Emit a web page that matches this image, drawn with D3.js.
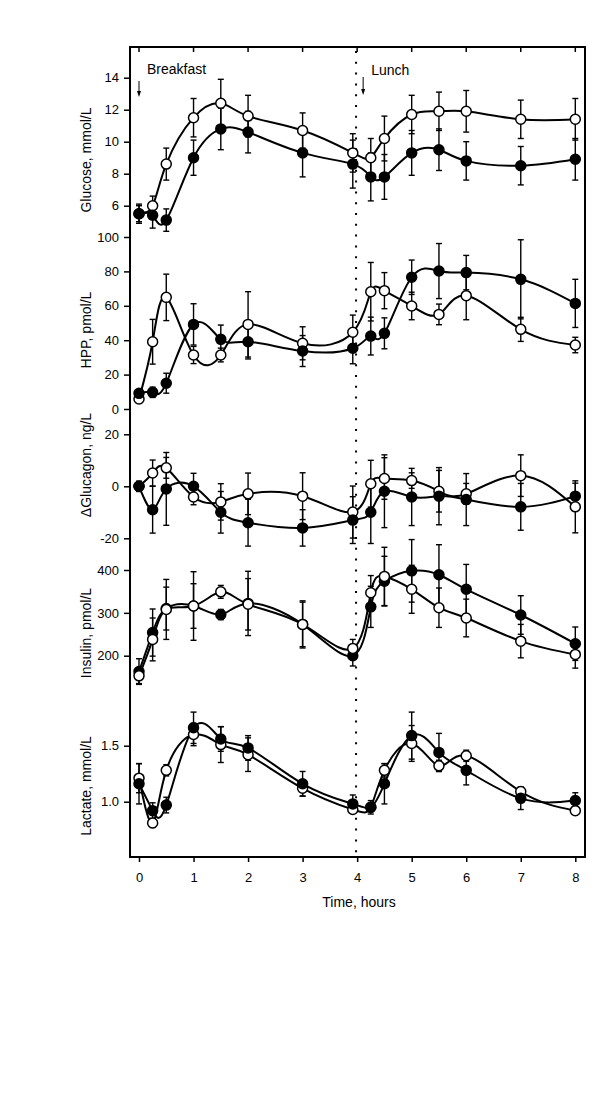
<!DOCTYPE html>
<html lang="en">
<head>
<meta charset="utf-8">
<script src="https://cdn.jsdelivr.net/npm/d3@7"></script>
<style>
  body { margin: 0; background: white; }
  svg { font-family: 'Liberation Sans', Arial, sans-serif; }
  .frame { fill: none; stroke: black; stroke-width: 2px; }
  .curve { fill: none; stroke: black; stroke-width: 2px; }
  .err line { stroke: black; stroke-width: 1.4px; }
  .axis text { font-size: 13px; fill: black; }
  .axis line { stroke: black; stroke-width: 1.5px; }
  .label { font-size: 14px; fill: black; }
  .meal { font-size: 14px; fill: black; }
</style>
</head>
<body>
<svg width="600" height="1099"></svg>
<script>
// sampling times (h); the pre-lunch sample sits just before 4 h
var hours = [0, 0.25, 0.5, 1, 1.5, 2, 3, 3.92, 4.25, 4.5, 5, 5.5, 6, 7, 8];
var hourTicks = [0, 1, 2, 3, 4, 5, 6, 7, 8];

var glucoseFilled    = [5.5, 5.4, 5.1, 9.0, 10.8, 10.6, 9.3, 8.6, 7.8, 7.8, 9.3, 9.5, 8.8, 8.5, 8.9];
var glucoseFilledErr = [0.6, 0.8, 0.7, 1.1, 1.3, 1.3, 1.5, 1.5, 1.5, 1.4, 1.4, 1.3, 1.2, 1.2, 1.3];
var glucoseOpen      = [5.5, 6.0, 8.6, 11.5, 12.4, 11.6, 10.7, 9.3, 9.0, 10.2, 11.7, 11.9, 11.9, 11.4, 11.4];
var glucoseOpenErr   = [0.5, 0.6, 1.0, 1.2, 1.5, 1.3, 1.1, 1.2, 1.2, 1.4, 1.2, 1.2, 1.3, 1.2, 1.3];
var glucoseTicks = [6, 8, 10, 12, 14];

var hppFilled    = [9.1, 9.7, 15, 49.2, 40.5, 39.1, 33.7, 35.3, 42.4, 44, 76.6, 80.2, 79.3, 75.4, 61.4];
var hppFilledErr = [2, 3, 5.8, 12, 8.3, 10, 9, 9, 11, 9, 10, 16, 10, 23, 14];
var hppOpen      = [5.8, 39.1, 64.9, 31.4, 31.4, 49.2, 38.2, 44.6, 68.2, 68.8, 59.9, 55, 65.9, 46.3, 37.2];
var hppOpenErr   = [2, 13, 13.5, 5, 4, 19, 9.6, 10, 17, 10.5, 8, 6, 14, 7, 4.5];
var hppTicks = [0, 20, 40, 60, 80, 100];

var glucagonFilled    = [0, -9, -1, 0, -10, -14, -16, -13, -10, -1.9, -4.1, -3.8, -5.1, -7.9, -3.8];
var glucagonFilledErr = [2, 9, 14, 5, 8, 9, 7, 9, 12, 14, 11, 11, 10, 9, 5];
var glucagonOpen      = [0, 5.1, 7.1, -4.1, -6, -2.9, -3.8, -9.9, 1, 3, 2.2, -1.9, -2.9, 4.1, -7.9];
var glucagonOpenErr   = [1, 5, 4, 3, 7, 8, 9, 10, 9, 8, 3, 8, 4, 8, 10];
var glucagonTicks = [-20, 0, 20];

var insulinFilled    = [163, 254, 310, 316, 296, 322, 273, 200, 314, 374, 398, 389, 355, 295, 228];
var insulinFilledErr = [30, 55, 50, 52, 12, 75, 55, 24, 48, 58, 73, 70, 58, 45, 39];
var insulinOpen      = [153, 238, 308, 316, 349, 320, 273, 217, 347, 385, 355, 312, 288, 234, 203];
var insulinOpenErr   = [18, 50, 70, 80, 15, 60, 52, 21, 40, 68, 56, 46, 44, 39, 32];
var insulinTicks = [200, 300, 400];

var lactateFilled    = [1.16, 0.92, 0.97, 1.66, 1.56, 1.48, 1.16, 0.98, 0.95, 1.16, 1.59, 1.44, 1.28, 1.03, 1.01];
var lactateFilledErr = [0.18, 0.07, 0.07, 0.14, 0.11, 0.11, 0.11, 0.08, 0.06, 0.18, 0.21, 0.17, 0.13, 0.1, 0.07];
var lactateOpen      = [1.21, 0.81, 1.28, 1.60, 1.51, 1.42, 1.12, 0.93, 0.95, 1.28, 1.52, 1.32, 1.41, 1.09, 0.92];
var lactateOpenErr   = [0.13, 0.04, 0.05, 0.10, 0.16, 0.15, 0.07, 0.03, 0.04, 0.06, 0.16, 0.05, 0.05, 0.04, 0.03];
var lactateTicks = [1.0, 1.5];

var meals = ["Breakfast", "Lunch"];
var mealTimes = [0, 4.11];

var svg = d3.select("svg");
// note: "top" is taken by window.top, so use frame* names
var frameL = 130, frameR = 585, frameT = 47, frameB = 857;

var x = d3.scaleLinear().domain([0, 8]).range([139, 575.3]);

// plain hyphen minus like the original, not d3's unicode minus
var plain = function(d) { return String(d); };

// each panel gets its own linear y scale, stacked in one frame
var panels = [
  { label: "Glucose, mmol/L", filled: glucoseFilled, fErr: glucoseFilledErr, open: glucoseOpen, oErr: glucoseOpenErr,
    ticks: glucoseTicks, fmt: plain, y: d3.scaleLinear().domain([6, 14]).range([205.7, 77.7]), mid: 160, openOnTop: false },
  { label: "HPP, pmol/L", filled: hppFilled, fErr: hppFilledErr, open: hppOpen, oErr: hppOpenErr,
    ticks: hppTicks, fmt: plain, y: d3.scaleLinear().domain([0, 100]).range([409, 237]), mid: 330, openOnTop: false },
  { label: "\u0394Glucagon, ng/L", filled: glucagonFilled, fErr: glucagonFilledErr, open: glucagonOpen, oErr: glucagonOpenErr,
    ticks: glucagonTicks, fmt: plain, y: d3.scaleLinear().domain([-20, 20]).range([538.3, 434.3]), mid: 465, openOnTop: false },
  { label: "Insulin, pmol/L", filled: insulinFilled, fErr: insulinFilledErr, open: insulinOpen, oErr: insulinOpenErr,
    ticks: insulinTicks, fmt: plain, y: d3.scaleLinear().domain([200, 400]).range([655.7, 570]), mid: 633, openOnTop: true },
  { label: "Lactate, mmol/L", filled: lactateFilled, fErr: lactateFilledErr, open: lactateOpen, oErr: lactateOpenErr,
    ticks: lactateTicks, fmt: d3.format(".1f"), y: d3.scaleLinear().domain([1.0, 1.5]).range([801.7, 745.7]), mid: 786, openOnTop: false }
];

// dotted lunch divider
svg.append("line")
  .attr("x1", x(3.98)).attr("x2", x(3.98))
  .attr("y1", frameT + 4).attr("y2", frameB)
  .attr("stroke", "black").attr("stroke-width", 2)
  .attr("stroke-dasharray", "2,8.8");

panels.forEach(function(p) {
  var g = svg.append("g");

  var yAxis = d3.axisLeft(p.y).tickValues(p.ticks).tickSize(6).tickPadding(5).tickFormat(p.fmt);
  g.append("g").attr("class", "axis")
    .attr("transform", "translate(" + frameL + ",0)")
    .call(yAxis)
    .call(function(a) { a.select(".domain").remove(); });

  g.append("text").attr("class", "label")
    .attr("transform", "translate(86," + p.mid + ") rotate(-90)")
    .attr("text-anchor", "middle").attr("dy", "0.35em")
    .text(p.label);

  var line = d3.line()
    .x(function(d, i) { return x(hours[i]); })
    .y(function(d) { return p.y(d); })
    .curve(d3.curveNatural);

  g.append("path").attr("class", "curve").attr("d", line(p.filled));
  g.append("path").attr("class", "curve").attr("d", line(p.open));

  [[p.filled, p.fErr], [p.open, p.oErr]].forEach(function(s) {
    var eg = g.append("g").attr("class", "err");
    s[0].forEach(function(v, i) {
      var cx = x(hours[i]), y1 = p.y(v - s[1][i]), y2 = p.y(v + s[1][i]);
      eg.append("line").attr("x1", cx).attr("x2", cx).attr("y1", y1).attr("y2", y2);
      eg.append("line").attr("x1", cx - 3).attr("x2", cx + 3).attr("y1", y1).attr("y2", y1);
      eg.append("line").attr("x1", cx - 3).attr("x2", cx + 3).attr("y1", y2).attr("y2", y2);
    });
  });

  var order = p.openOnTop ? ["filled", "open"] : ["open", "filled"];
  order.forEach(function(k) {
    g.append("g").selectAll("circle")
      .data(p[k])
      .join("circle")
      .attr("cx", function(d, i) { return x(hours[i]); })
      .attr("cy", function(d) { return p.y(d); })
      .attr("r", 5)
      .attr("fill", k === "filled" ? "black" : "white")
      .attr("stroke", "black")
      .attr("stroke-width", 1.5);
  });
});

// frame
svg.append("rect").attr("class", "frame")
  .attr("x", frameL).attr("y", frameT)
  .attr("width", frameR - frameL).attr("height", frameB - frameT);

// bottom axis (ticks out) and top ticks (in)
svg.append("g").attr("class", "axis")
  .attr("transform", "translate(0," + frameB + ")")
  .call(d3.axisBottom(x).tickValues(hourTicks).tickSize(5).tickPadding(10.5).tickFormat(plain))
  .call(function(a) { a.select(".domain").remove(); });

svg.append("g").selectAll("line")
  .data(hourTicks)
  .join("line")
  .attr("x1", function(d) { return x(d); }).attr("x2", function(d) { return x(d); })
  .attr("y1", frameT).attr("y2", frameT + 5)
  .attr("stroke", "black").attr("stroke-width", 1.5);

svg.append("text").attr("class", "label")
  .attr("x", 359).attr("y", 906.5)
  .attr("text-anchor", "middle")
  .text("Time, hours");

// meal markers
meals.forEach(function(m, i) {
  var ax = x(mealTimes[i]);
  var y0 = i === 0 ? 81 : 77, y1 = i === 0 ? 97 : 95;
  svg.append("line").attr("x1", ax).attr("x2", ax).attr("y1", y0).attr("y2", y1 - 3)
    .attr("stroke", "black").attr("stroke-width", 1);
  svg.append("path")
    .attr("d", "M" + (ax - 2) + "," + (y1 - 6) + "L" + ax + "," + y1 + "L" + (ax + 2) + "," + (y1 - 6) + "Z")
    .attr("fill", "black");
  svg.append("text").attr("class", "meal")
    .attr("x", ax + 8)
    .attr("y", i === 0 ? 74 : 75)
    .text(m);
});
</script>
</body>
</html>
